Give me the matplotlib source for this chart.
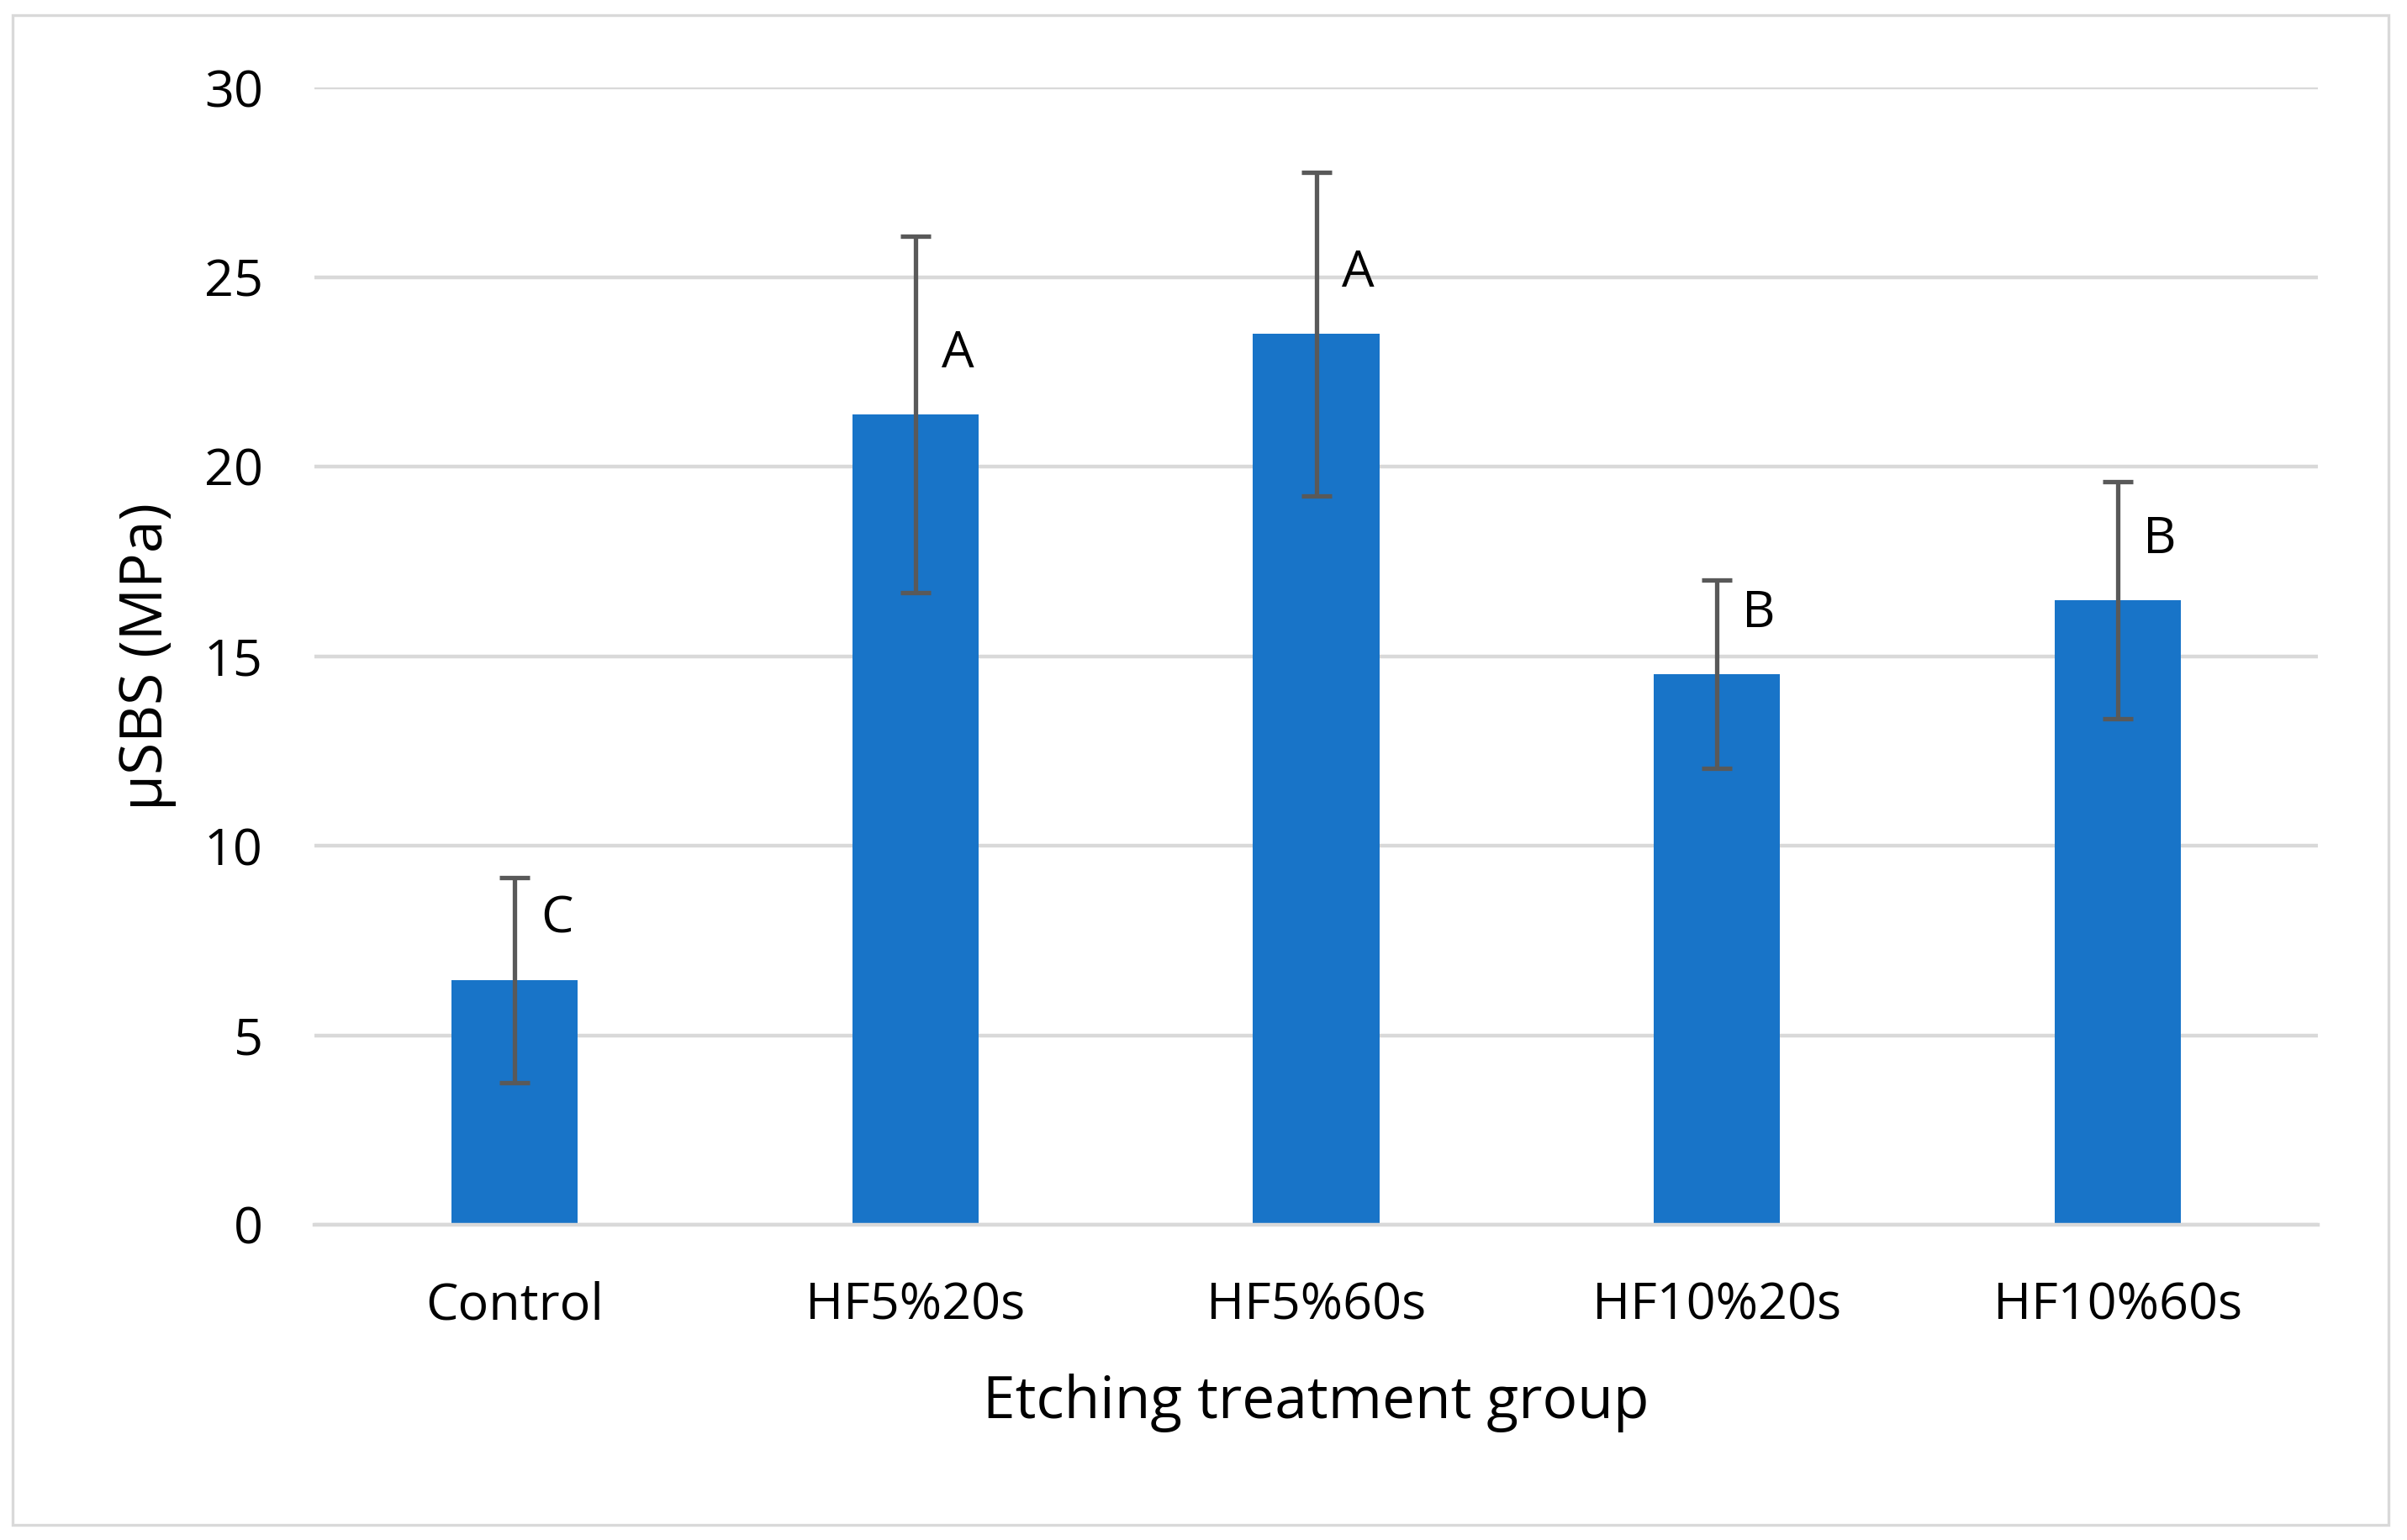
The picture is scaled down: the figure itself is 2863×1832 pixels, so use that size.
import matplotlib.pyplot as plt
import numpy as np
from matplotlib.patches import Rectangle

plt.rcParams['font.family'] = ['Open Sans', 'DejaVu Sans']

groups = ["Control", "HF5%20s", "HF5%60s", "HF10%20s", "HF10%60s"]
means = [6.45, 21.37, 23.5, 14.53, 16.47]
sds = [2.7, 4.7, 4.27, 2.48, 3.13]
letters = ["C", "A", "A", "B", "B"]

fig = plt.figure(figsize=(14.315, 9.16), dpi=200)
ax = fig.add_axes([374 / 2863, 1 - 1457 / 1832, (2757 - 374) / 2863, (1457 - 104) / 1832])

x = np.arange(len(groups))
ax.bar(x, means, width=0.315, color="#1874c8", zorder=2)
ax.errorbar(x, means, yerr=sds, fmt="none", ecolor="#595959", elinewidth=1.9,
            capsize=6.5, capthick=1.9, zorder=3)
for xi, m, lab in zip(x, means, letters):
    ax.text(xi + 0.105, m + 1.6, lab, fontsize=22, ha="center", va="center")

ax.set_xlim(-0.5, len(groups) - 0.5)
ax.set_ylim(0, 30)
ax.set_yticks(np.arange(0, 31, 5))
ax.set_xticks(x, groups)
ax.grid(axis="y", color="#d9d9d9", linewidth=1.6, zorder=0)
ax.set_axisbelow(True)
for s in ["top", "right", "left"]:
    ax.spines[s].set_visible(False)
ax.spines["bottom"].set_color("#d9d9d9")
ax.spines["bottom"].set_linewidth(1.6)
ax.tick_params(axis="x", length=0, labelsize=22, pad=24)
ax.tick_params(axis="y", length=0, labelsize=22, pad=22)
ax.set_ylabel("µSBS (MPa)", fontsize=25, labelpad=12)
ax.set_xlabel("Etching treatment group", fontsize=25, labelpad=18)

fig.patches.append(Rectangle((8 / 1568, 1 - 993 / 1003), 1548 / 1568, 983 / 1003,
                             transform=fig.transFigure, fill=False,
                             edgecolor="#d9d9d9", linewidth=1.2))

fig.savefig("out.png", dpi=200)
